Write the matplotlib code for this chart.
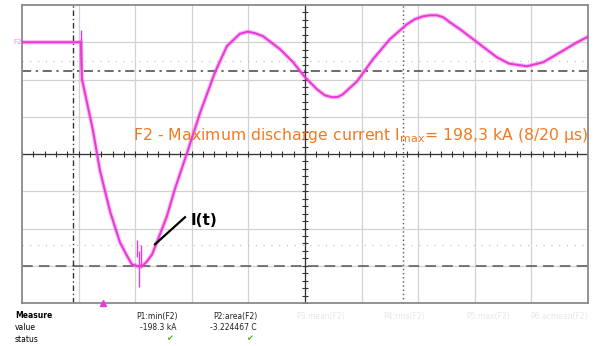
import numpy as np
import matplotlib
matplotlib.use('Agg')
from matplotlib import pyplot as plt

# trace: time (us) and current (kA)
t_us = [-9, 1.4, 1.6, 3.5, 4.8, 6.6, 8.3, 9.6, 10.4, 11.5, 12.4, 13.1, 14.0,
        14.9, 16.6, 18.0, 20.2, 22.5, 25.1, 27.2, 28.5, 29.5, 30.9, 32.2,
        33.6, 36.6, 38.9, 41.0, 43.1, 44.5, 45.8, 46.8, 47.7, 50.2, 53.0,
        56.0, 59.0, 60.4, 61.9, 63.1, 64.3, 65.4, 66.6, 68.4, 71.4, 74.9,
        77.0, 77.8, 79.6, 80.2, 83.1, 86.1, 89.1, 90.8]
i_ka = [0, 0, -32.8, -77.1, -114.3, -150.6, -177.2, -189.6, -196.7, -198.5,
        -197.6, -194.0, -187.8, -176.3, -154.2, -130.2, -97.5, -62.0, -26.6,
        -3.5, 2.7, 7.5, 9.4, 8.0, 5.3, -6.2, -17.7, -31.0, -41.6, -47.0,
        -48.7, -48.5, -46.1, -34.6, -15.1, 2.7, 15.9, 20.4, 23.0, 23.9, 23.9,
        22.2, 17.7, 11.5, 0, -13.3, -18.8, -19.5, -20.8, -21.3, -17.7, -8.9,
        0, 4.4]

# spikes (noise) at trigger and at the minimum
spike_t = [1.4, 1.5, 11.3, 11.7, 12.1]
spike_lo = [-25, -20, -190, -217, -200]
spike_hi = [11, 4, -175, -185, -180]

i_min = -198.3
cursor_h = [-25.7, -16.8, -179.9]   # dash-dot, dotted, dotted
cursor_v = [0, 58.3]

meas_names = ['P1:min(F2)', 'P2:area(F2)', 'P3:mean(F2)', 'P4:rms(F2)', 'P5:max(F2)', 'P6:acmean(F2)']
meas_vals = ['-198.3 kA', '-3.224467 C']

pink = '#e83ad6'

fig = plt.figure(figsize=(5.96, 3.46), dpi=100)
ax = fig.add_axes([22/596, 43/346, 566/596, 298/346])
ax.set_xlim(-9, 91)
ax.set_ylim(-231, 33)

# grid
for k in range(1, 10):
    ax.axvline(-9 + 10*k, color='#d2d2d2', lw=0.9, zorder=1)
for k in range(1, 8):
    ax.axhline(33 - 33*k, color='#d2d2d2', lw=0.9, zorder=1)

# center axes with small ticks
ax.axhline(-99, color='#333333', lw=0.9, zorder=2)
ax.axvline(41, color='#333333', lw=0.9, zorder=2)
ax.plot(np.arange(-9, 91, 2), [-99]*50, ls='none', marker='|', ms=4, color='#333333', mew=0.8, zorder=2)
ax.plot([41]*40, np.arange(-231, 33, 6.6), ls='none', marker='_', ms=4, color='#333333', mew=0.8, zorder=2)

# cursors
ax.axhline(cursor_h[0], color='#444444', lw=1.1, ls=(0, (6, 3, 1.5, 3)), zorder=2)
ax.axhline(cursor_h[1], color='#bbbbbb', lw=0.8, ls=(0, (1, 6)), zorder=2)
ax.axhline(cursor_h[2], color='#bbbbbb', lw=0.8, ls=(0, (1, 6)), zorder=2)
ax.axhline(i_min, color='#555555', lw=1.1, ls=(0, (7, 4)), zorder=2)
ax.axvline(cursor_v[0], color='#333333', lw=1.0, ls=(0, (4, 2, 1, 2)), zorder=2)
ax.axvline(cursor_v[1], color='#555555', lw=1.0, ls=(0, (1, 2)), zorder=2)

# trace
ax.plot(t_us, i_ka, color=pink, lw=3.2, alpha=0.3, zorder=3, solid_joinstyle='round')
ax.plot(t_us, i_ka, color=pink, lw=1.5, zorder=4, solid_joinstyle='round')
ax.vlines(spike_t, spike_lo, spike_hi, color=pink, lw=1.0, zorder=4)

ax.text(-10.5, 0, 'F2', color=pink, fontsize=5, alpha=0.6, ha='left', va='center', zorder=5)
ax.plot([5.3], [-231], marker='^', ms=4, color=pink, clip_on=False, zorder=5)

# annotation
ax.plot([14.5, 19.8], [-179, -155], color='black', lw=1.6, zorder=5)
ax.text(20.8, -158, 'I(t)', fontsize=11, fontweight='bold', ha='left', va='center', zorder=5)
ax.text(10.6, -83, 'F2 - Maximum discharge current I$_{\\rm max}$= 198,3 kA (8/20 µs)',
        color='#f07a22', fontsize=11.3, ha='left', va='center', zorder=5)

ax.set_xticks([])
ax.set_yticks([])
for s in ax.spines.values():
    s.set_color('#8a8a8a')
    s.set_linewidth(1.3)

# measurement table below
fs = 5.5
fig.text(15/596, 1 - 316/346, 'Measure', fontsize=fs, fontweight='bold', va='center')
fig.text(15/596, 1 - 327/346, 'value', fontsize=fs, va='center')
fig.text(15/596, 1 - 339/346, 'status', fontsize=fs, va='center')
right_x = [178, 258, 345, 425, 510, 588]
for k, name in enumerate(meas_names):
    c = '#222222' if k < 2 else '#e6e6e6'
    fig.text(right_x[k]/596, 1 - 316/346, name, fontsize=fs, ha='right', va='center', color=c)
for k, v in enumerate(meas_vals):
    fig.text((right_x[k] - 1)/596, 1 - 327/346, v, fontsize=fs, ha='right', va='center', color='#222222')
    fig.text((right_x[k] - 8)/596, 1 - 339/346, '✔', fontsize=6, ha='center', va='center', color='#4caf2a')

fig.savefig('out.png', dpi=100)
